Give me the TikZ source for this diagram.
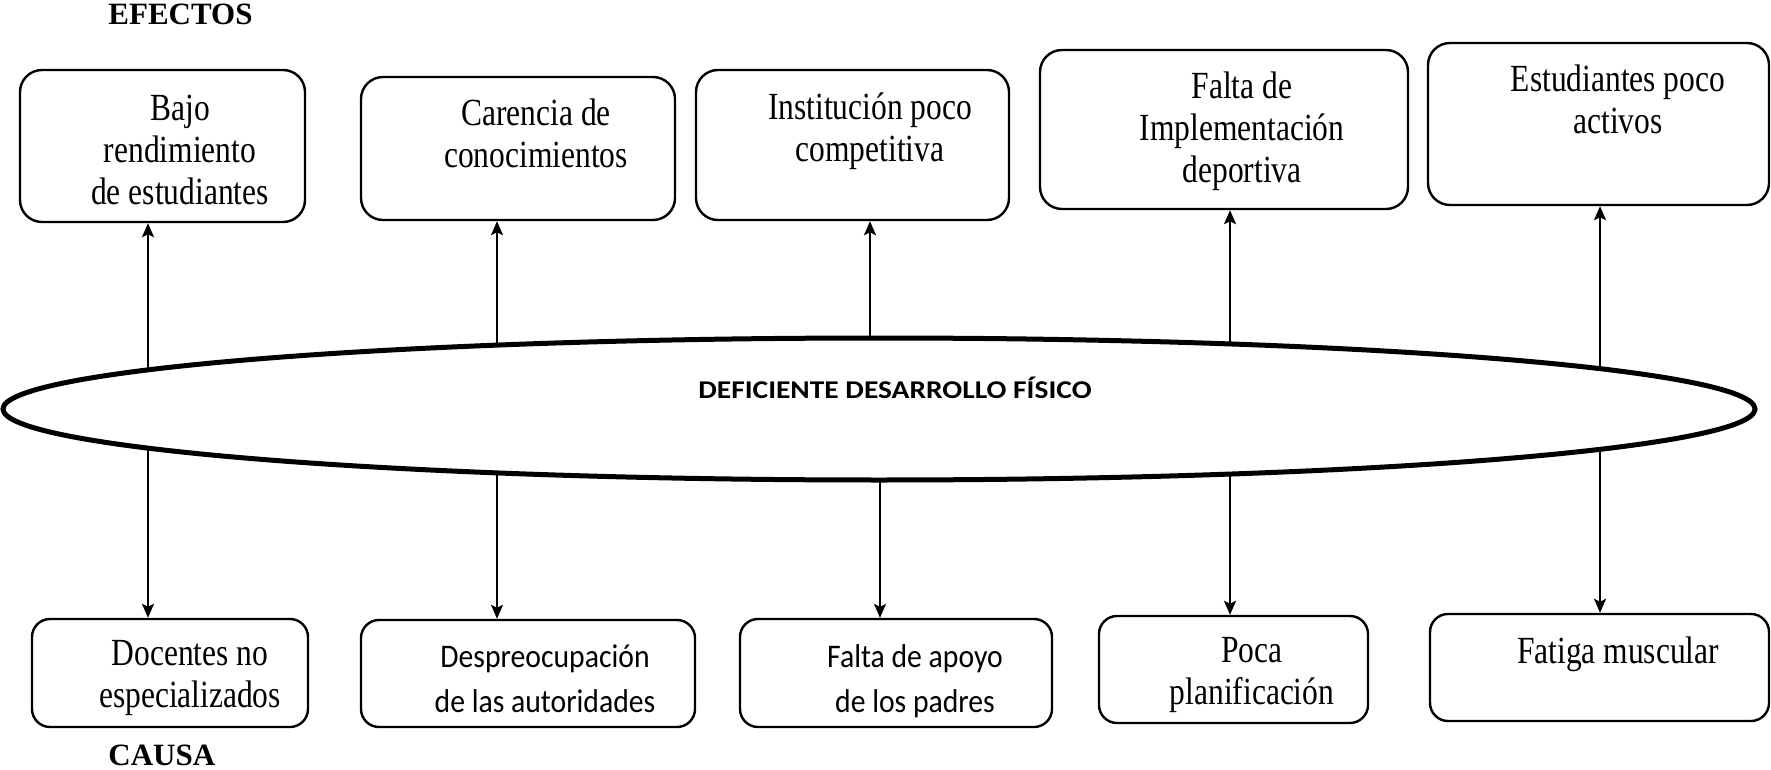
\documentclass[tikz,border=0pt]{standalone}
\usepackage{fontspec}
\setmainfont{Liberation Serif}
\newfontfamily\tnr[FakeStretch=0.82]{Liberation Serif}
\newfontfamily\calfont[FakeStretch=0.9]{Carlito}
\newfontfamily\calbfont[FakeStretch=1.15]{Carlito}
\usetikzlibrary{arrows.meta,shapes.geometric}
\begin{document}
\begin{tikzpicture}[x=0.5pt,y=-0.5pt,
 topbox/.style={draw, line width=1.2pt, rounded corners=11pt, inner sep=0pt},
 botbox/.style={draw, line width=1.2pt, rounded corners=9pt, inner sep=0pt},
 tnrtext/.style={font=\tnr\fontsize{19.2}{21}\selectfont, align=center, anchor=base, inner sep=0pt},
 caltext/.style={font=\calfont\fontsize{16.5}{22.5}\selectfont, align=center, anchor=base, inner sep=0pt},
 arr/.style={line width=1.2pt, -{Stealth[length=7pt,width=6pt,inset=1.5pt]}},
 heading/.style={font=\bfseries\fontsize{15.5}{18}\selectfont, anchor=base west, inner sep=0pt}]
\useasboundingbox (0,0) rectangle (1771,770);

% headings
\node[heading] (efectos) at (108,25) {EFECTOS};
\node[heading] (causa) at (108,765) {CAUSA};

% top boxes (effects)
\node[topbox, minimum width=142.5pt, minimum height=76pt] (t1) at (162.5,146) {};
\node[topbox, minimum width=157pt, minimum height=71.5pt] (t2) at (518,148.5) {};
\node[topbox, minimum width=156.5pt, minimum height=75pt] (t3) at (852.5,145) {};
\node[topbox, minimum width=184pt, minimum height=79.5pt] (t4) at (1224,129.5) {};
\node[topbox, minimum width=170.5pt, minimum height=81pt] (t5) at (1598.5,124) {};

% (anchor base = baseline of the last line)
\node[tnrtext] (t1txt) at (180,205) {Bajo\\rendimiento\\de estudiantes};
\node[tnrtext] (t2txt) at (536,168) {Carencia de\\conocimientos};
\node[tnrtext] (t3txt) at (870,162) {Institución poco\\competitiva};
\node[tnrtext] (t4txt) at (1242,183) {Falta de\\Implementación\\deportiva};
\node[tnrtext] (t5txt) at (1618,134) {Estudiantes poco\\activos};

% central problem
\node[draw, ellipse, line width=2.5pt, minimum width=876pt, minimum height=71pt, inner sep=0pt] (ell) at (879,409) {};
\node[font=\calbfont\bfseries\fontsize{12.8}{15}\selectfont, anchor=base, inner sep=0pt] (prob) at (895,398) {DEFICIENTE DESARROLLO FÍSICO};

% bottom boxes (causes)
\node[botbox, minimum width=138pt, minimum height=54pt] (b1) at (170,673) {};
\node[botbox, minimum width=167pt, minimum height=53.5pt] (b2) at (528,673.5) {};
\node[botbox, minimum width=156pt, minimum height=54pt] (b3) at (896,673) {};
\node[botbox, minimum width=134.5pt, minimum height=53.5pt] (b4) at (1233.5,669.5) {};
\node[botbox, minimum width=169.5pt, minimum height=53.5pt] (b5) at (1599.5,667.5) {};

\node[tnrtext] (b1txt) at (190,707) {Docentes no\\especializados};
\node[caltext] (b2txt) at (545,712) {Despreocupación\\de las autoridades};
\node[caltext] (b3txt) at (915,712) {Falta de apoyo\\de los padres};
\node[tnrtext] (b4txt) at (1252,704) {Poca\\planificación};
\node[tnrtext] (b5txt) at (1618,663) {Fatiga muscular};

% points on the ellipse border
\coordinate (u1) at (148,370);
\coordinate (u2) at (497,345);
\coordinate (u3) at (870,338);
\coordinate (u4) at (1230,344);
\coordinate (u5) at (1600,369);
\coordinate (d1) at (148,448);
\coordinate (d2) at (497,473);
\coordinate (d3) at (880,480);
\coordinate (d4) at (1230,474);
\coordinate (d5) at (1600,449);

% connectors
\draw[arr] (u1) -- (u1 |- t1.south);
\draw[arr] (u2) -- (u2 |- t2.south);
\draw[arr] (u3) -- (u3 |- t3.south);
\draw[arr] (u4) -- (u4 |- t4.south);
\draw[arr] (u5) -- (u5 |- t5.south);
\draw[arr] (d1) -- (d1 |- b1.north);
\draw[arr] (d2) -- (d2 |- b2.north);
\draw[arr, line width=0.8pt] (d3) -- (d3 |- b3.north);
\draw[arr] (d4) -- (d4 |- b4.north);
\draw[arr] (d5) -- (d5 |- b5.north);
\end{tikzpicture}
\end{document}
